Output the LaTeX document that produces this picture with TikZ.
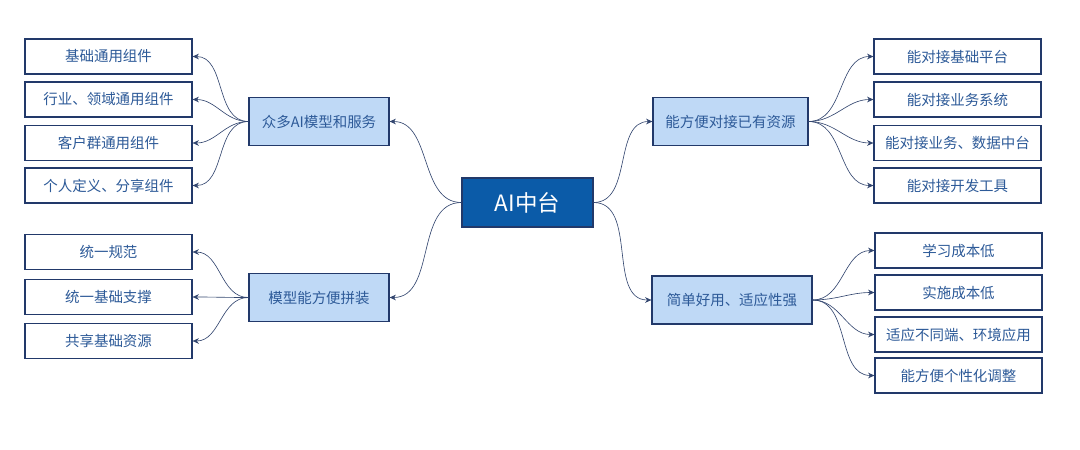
\documentclass[tikz,border=0pt]{standalone}
\usepackage{fontspec}
\setmainfont{Noto Sans CJK SC}
\usetikzlibrary{arrows.meta}

\definecolor{coreblue}{HTML}{0B5BA8}
\definecolor{paleblue}{HTML}{BFD9F6}
\definecolor{navyline}{HTML}{22396A}
\definecolor{textblue}{HTML}{2D5A98}
\definecolor{linkblue}{HTML}{33466F}

\tikzset{
  leaf/.style={draw=navyline, line width=0.8pt, fill=white, text=textblue,
    minimum width=4.175cm, minimum height=0.875cm, inner sep=0pt,
    font=\fontsize{10.3}{12}\selectfont},
  branch/.style={leaf, fill=paleblue, minimum height=1.2cm},
  hub/.style={draw=navyline, line width=0.8pt, fill=coreblue, text=white,
    minimum width=3.275cm, minimum height=1.225cm, inner sep=0pt,
    font=\fontsize{16}{19}\selectfont},
  link/.style={draw=linkblue, line width=0.45pt, -{Stealth[length=4.5pt,width=4pt]}},
}

\begin{document}
\begin{tikzpicture}[x=0.025cm, y=-0.025cm]
  \useasboundingbox (0,0) rectangle (1080,449);
  % centre and branches
  \node[hub] (hub) at (527.5,202.5) {AI中台};
  \node[branch, minimum width=3.5cm] (models) at (319,121.5) {众多AI模型和服务};
  \node[branch, minimum width=3.5cm] (assemble) at (319,297.5) {模型能方便拼装};
  \node[branch, minimum width=3.875cm] (connect) at (730.5,121.5) {能方便对接已有资源};
  \node[branch, minimum width=4cm] (easy) at (732,300) {简单好用、适应性强};
  \draw[link] (hub.west) to[out=180, in=0] (models.east);
  \draw[link] (hub.west) to[out=180, in=0] (assemble.east);
  \draw[link] (hub.east) to[out=0, in=180] (connect.west);
  \draw[link] (hub.east) to[out=0, in=180] (easy.west);
  % left leaves
  \foreach \y/\t [count=\i] in {56.5/基础通用组件, 99.5/行业、领域通用组件,
      143/客户群通用组件, 185.5/个人定义、分享组件} {
    \node[leaf] (ml\i) at (108.5,\y) {\t};
    \draw[link] (models.west) to[out=180, in=0] (ml\i.east);
  }
  \foreach \y/\t [count=\i] in {252/统一规范, 297/统一基础支撑, 341/共享基础资源} {
    \node[leaf] (al\i) at (108.5,\y) {\t};
    \draw[link] (assemble.west) to[out=180, in=0] (al\i.east);
  }
  % right leaves
  \foreach \y/\t [count=\i] in {56.5/能对接基础平台, 99.5/能对接业务系统,
      143/能对接业务、数据中台, 185.5/能对接开发工具} {
    \node[leaf] (cl\i) at (957.5,\y) {\t};
    \draw[link] (connect.east) to[out=0, in=180] (cl\i.west);
  }
  \foreach \y/\t [count=\i] in {250.5/学习成本低, 292.5/实施成本低,
      334.5/适应不同端、环境应用, 375.5/能方便个性化调整} {
    \node[leaf] (el\i) at (958.5,\y) {\t};
    \draw[link] (easy.east) to[out=0, in=180] (el\i.west);
  }
\end{tikzpicture}
\end{document}
